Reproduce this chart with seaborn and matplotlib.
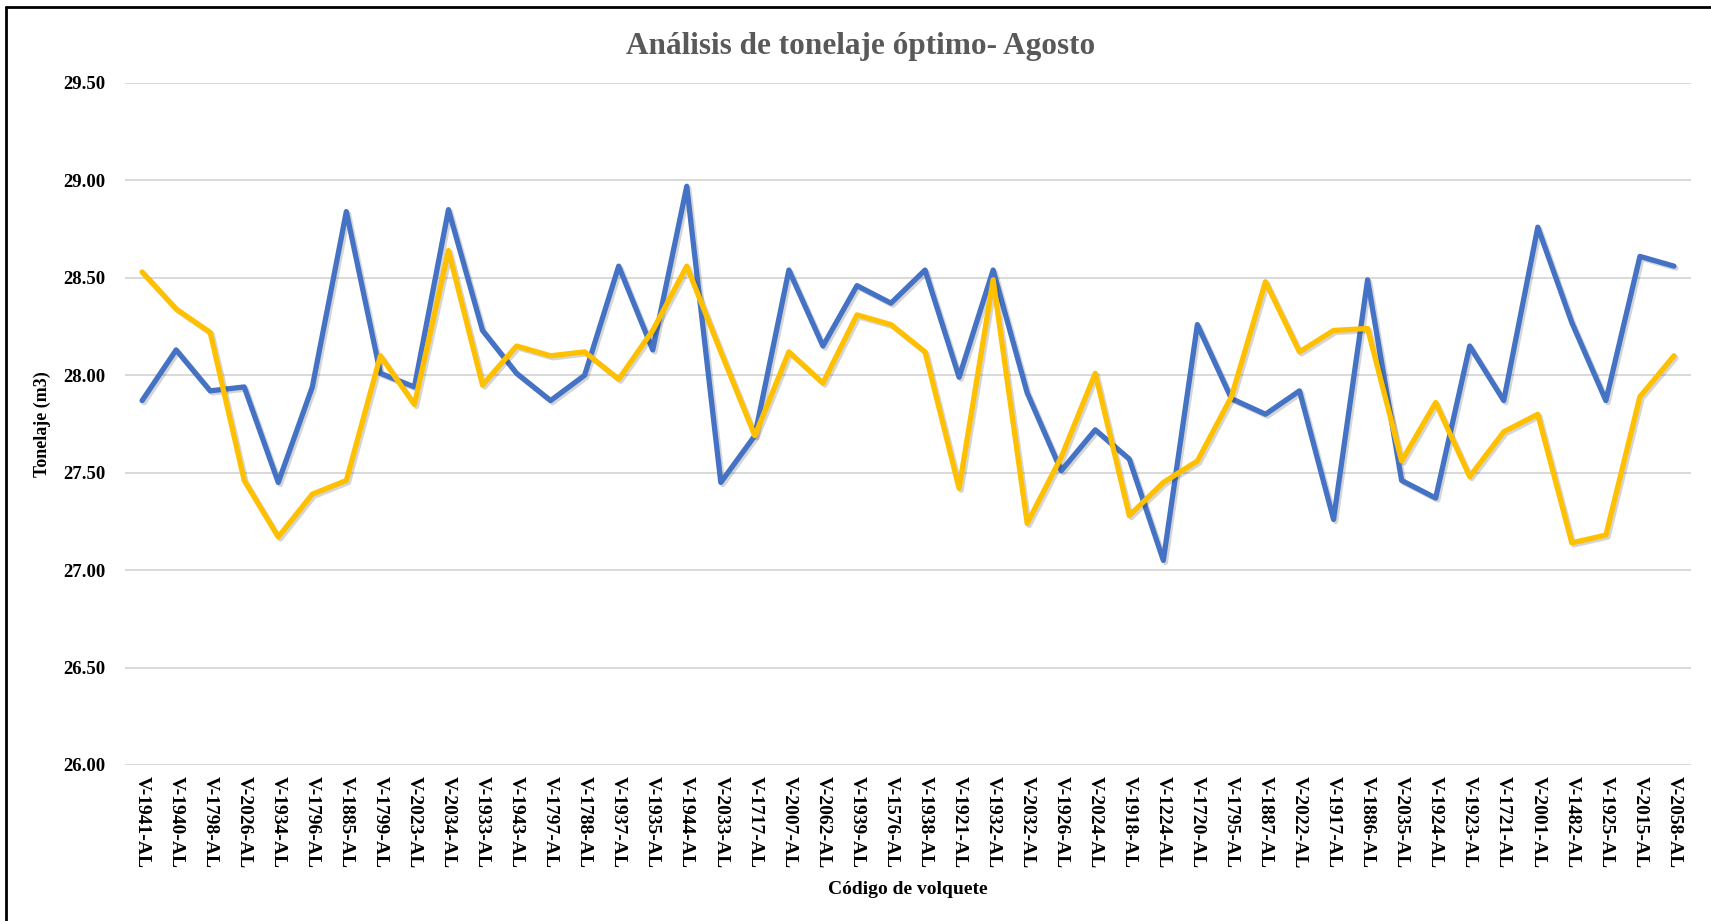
import numpy as np
import pandas as pd
import seaborn as sns
import matplotlib.pyplot as plt
import matplotlib.patheffects as pe
from matplotlib.lines import Line2D

# --- Data ---
codigos = ['V-1941-AL', 'V-1940-AL', 'V-1798-AL', 'V-2026-AL', 'V-1934-AL', 'V-1796-AL',
           'V-1885-AL', 'V-1799-AL', 'V-2023-AL', 'V-2034-AL', 'V-1933-AL', 'V-1943-AL',
           'V-1797-AL', 'V-1788-AL', 'V-1937-AL', 'V-1935-AL', 'V-1944-AL', 'V-2033-AL',
           'V-1717-AL', 'V-2007-AL', 'V-2062-AL', 'V-1939-AL', 'V-1576-AL', 'V-1938-AL',
           'V-1921-AL', 'V-1932-AL', 'V-2032-AL', 'V-1926-AL', 'V-2024-AL', 'V-1918-AL',
           'V-1224-AL', 'V-1720-AL', 'V-1795-AL', 'V-1887-AL', 'V-2022-AL', 'V-1917-AL',
           'V-1886-AL', 'V-2035-AL', 'V-1924-AL', 'V-1923-AL', 'V-1721-AL', 'V-2001-AL',
           'V-1482-AL', 'V-1925-AL', 'V-2015-AL', 'V-2058-AL']

tonelaje_azul = [27.87, 28.13, 27.92, 27.94, 27.45, 27.94, 28.84, 28.01, 27.94, 28.85,
                 28.23, 28.01, 27.87, 28.00, 28.56, 28.13, 28.97, 27.45, 27.69, 28.54,
                 28.15, 28.46, 28.37, 28.54, 27.99, 28.54, 27.91, 27.51, 27.72, 27.57,
                 27.05, 28.26, 27.88, 27.80, 27.92, 27.26, 28.49, 27.46, 27.37, 28.15,
                 27.87, 28.76, 28.27, 27.87, 28.61, 28.56]

tonelaje_amarillo = [28.53, 28.34, 28.22, 27.46, 27.17, 27.39, 27.46, 28.10, 27.85, 28.64,
                     27.95, 28.15, 28.10, 28.12, 27.98, 28.23, 28.56, 28.12, 27.69, 28.12,
                     27.96, 28.31, 28.26, 28.12, 27.42, 28.49, 27.24, 27.58, 28.01, 27.28,
                     27.45, 27.56, 27.89, 28.48, 28.12, 28.23, 28.24, 27.56, 27.86, 27.48,
                     27.71, 27.80, 27.14, 27.18, 27.89, 28.10]

y_ticks = [26.0, 26.5, 27.0, 27.5, 28.0, 28.5, 29.0, 29.5]

# long-form table for seaborn
df = pd.DataFrame({
    'idx': list(range(len(codigos))) * 2,
    'tonelaje': tonelaje_azul + tonelaje_amarillo,
    'serie': ['Real'] * len(codigos) + ['Óptimo'] * len(codigos),
})

# Chart appearance settings
sns.set_theme(style="white")
plt.rcParams['font.family'] = ['Liberation Serif', 'DejaVu Serif']
plt.rcParams['font.weight'] = 'bold'

fig = plt.figure(figsize=(17.11, 9.21), dpi=100)
ax = fig.add_axes([0.0731, 0.1694, 0.9152, 0.7405])

sns.lineplot(data=df, x='idx', y='tonelaje', hue='serie',
             palette={'Real': '#4472C4', 'Óptimo': '#FFC000'},
             linewidth=3.8, legend=False, ax=ax, zorder=3)

# soft shadow like the original
for ln in ax.get_lines():
    ln.set_solid_capstyle('round')
    ln.set_path_effects([pe.SimpleLineShadow(offset=(1.5, -1.5), alpha=0.18),
                         pe.Normal()])

ax.set_xlim(-0.5, len(codigos) - 0.5)
ax.set_ylim(26.0, 29.5)
ax.set_yticks(y_ticks)
ax.yaxis.set_major_formatter(plt.FuncFormatter(lambda v, p: f'{v:.2f}'))
ax.set_xticks(range(len(codigos)))
ax.set_xticklabels(codigos, rotation=-90, ha='center', va='top')
ax.tick_params(axis='x', length=0, pad=8, labelsize=14)
ax.tick_params(axis='y', length=0, pad=14, labelsize=13.5)
for lbl in ax.get_xticklabels() + ax.get_yticklabels():
    lbl.set_fontweight('bold')
    lbl.set_color('black')

ax.grid(axis='y', color='#d9d9d9', linewidth=1.4, zorder=0)
ax.grid(axis='x', visible=False)
for s in ax.spines.values():
    s.set_visible(False)

ax.set_xlabel('Código de volquete', fontsize=14, fontweight='bold', color='black', labelpad=9)
ax.set_ylabel('Tonelaje (m3)', fontsize=13, fontweight='bold', color='black')
ax.yaxis.set_label_coords(-0.047, 0.5)
fig.text(0.5030, 0.950, 'Análisis de tonelaje óptimo- Agosto', ha='center', va='center',
         fontsize=22.5, fontweight='bold', color='#595959')

# outer frame (left and top edges visible)
fig.add_artist(Line2D([0.0035, 0.0035], [0.0, 0.9925], transform=fig.transFigure,
                      color='black', linewidth=2))
fig.add_artist(Line2D([0.0035, 1.0], [0.9925, 0.9925], transform=fig.transFigure,
                      color='black', linewidth=2))

plt.savefig('out.png', dpi=100)
plt.close()
